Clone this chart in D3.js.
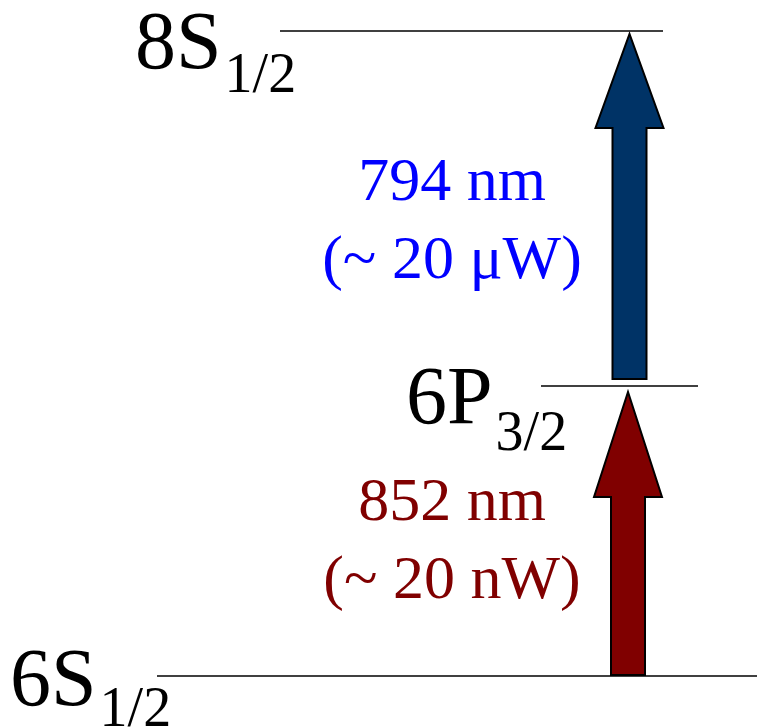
<!DOCTYPE html>
<html>
<head>
<meta charset="utf-8">
<script src="https://cdn.jsdelivr.net/npm/d3@7"></script>
<style>
  html, body { margin: 0; padding: 0; background: #fff; }
  svg { display: block; }
  text { font-family: "Liberation Serif", "Times New Roman", serif; }
</style>
</head>
<body>
<script>
// Cs two-photon ladder: 6S1/2 -> 6P3/2 -> 8S1/2 (schematic heights)
const levelTerms = ["6S", "6P", "8S"];
const levelSubs = ["1/2", "3/2", "1/2"];
const levelHeights = [0, 290, 645];
const levelX0 = [157, 541, 280];
const levelX1 = [757, 698, 663];

// excitation arrows (schematic heights of tail and tip)
const beamWavelengths = ["852 nm", "794 nm"];
const beamPowers = ["(~ 20 nW)", "(~ 20 μW)"];
const beamTail = [1, 297];
const beamTip = [284, 642];
const beamHeadLen = [105, 94];
const beamFill = ["#800000", "#003366"];
const beamText = ["#800000", "#0000ff"];

const W = 757, H = 727;
const svg = d3.select("body").append("svg").attr("width", W).attr("height", H);

const y = d3.scaleLinear().domain([0, 645]).range([676, 31]);
const x = d3.scaleLinear().domain([0, W]).range([0, W]);

// energy levels
svg.selectAll("line.level").data(levelHeights).join("line")
  .attr("class", "level")
  .attr("x1", (d, i) => x(levelX0[i]))
  .attr("x2", (d, i) => x(levelX1[i]))
  .attr("y1", d => y(d)).attr("y2", d => y(d))
  .attr("stroke", "#000").attr("stroke-width", 1.5);

// level labels with subscripts
const labelX = [10, 406, 135];
const labelBase = [705, 423, 68];
const subDrop = [21, 27, 24];
levelTerms.forEach((t, i) => {
  const tx = svg.append("text")
    .attr("x", labelX[i]).attr("y", labelBase[i])
    .attr("font-size", 82).attr("fill", "#000");
  tx.append("tspan").text(t);
  tx.append("tspan").attr("dx", 3).attr("dy", subDrop[i])
    .attr("font-size", 56).text(levelSubs[i]);
});

// arrows
const cx = 629.5, shaftHalf = 17, headHalf = 34;
const line = d3.line();
beamTail.forEach((t, i) => {
  const yb = y(t), yt = y(beamTip[i]), yh = yt + beamHeadLen[i];
  const cxi = cx - (i === 0 ? 1.5 : 0);
  const pts = [
    [cxi - shaftHalf, yb], [cxi - shaftHalf, yh], [cxi - headHalf, yh],
    [cxi, yt], [cxi + headHalf, yh], [cxi + shaftHalf, yh], [cxi + shaftHalf, yb]
  ];
  svg.append("path").attr("d", line(pts) + "Z")
    .attr("fill", beamFill[i]).attr("stroke", "#000")
    .attr("stroke-width", 2).attr("stroke-linejoin", "miter");
});

// transition labels
const textBase = [[520, 598], [200, 278]];
beamWavelengths.forEach((w, i) => {
  [w, beamPowers[i]].forEach((s, k) => {
    svg.append("text")
      .attr("x", 452).attr("y", textBase[i][k])
      .attr("text-anchor", "middle")
      .attr("font-size", 62).attr("fill", beamText[i])
      .text(s);
  });
});
</script>
</body>
</html>
